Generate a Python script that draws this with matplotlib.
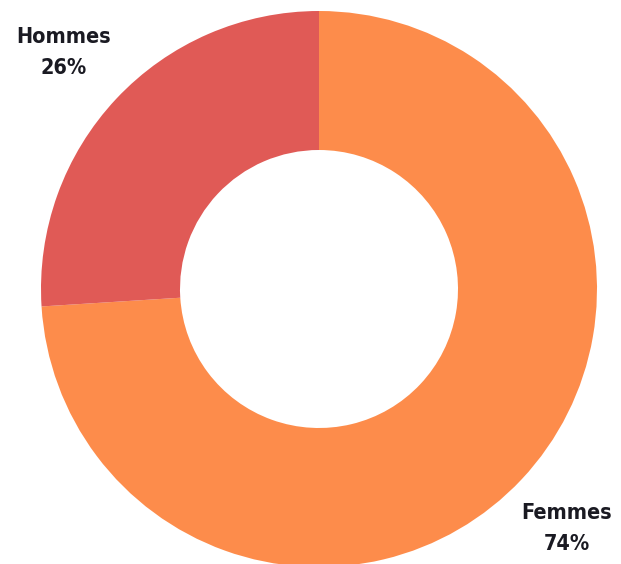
import matplotlib.pyplot as plt

# Data
labels = ["Femmes", "Hommes"]
shares = [74, 26]
colors = ["#FD8C4B", "#E05A56"]

fig = plt.figure(figsize=(6.21, 5.64), dpi=100)
ax = fig.add_axes([41 / 621, -3 / 564, 556 / 621, 556 / 564])

ax.pie(shares, colors=colors, startangle=90, counterclock=False,
       radius=1, wedgeprops=dict(width=0.5, linewidth=0))
ax.set_xlim(-1, 1)
ax.set_ylim(-1, 1)
ax.set_aspect("equal")
ax.axis("off")

font = dict(family="DejaVu Sans", fontweight="bold", fontstretch="condensed",
            fontsize=15.5, color="#1a1a22", ha="center", va="center")

# label positions in figure pixels (name line, percent line)
fig.text(64 / 621, 1 - 37 / 564, labels[1], **font)
fig.text(64 / 621, 1 - 68 / 564, f"{shares[1]}%", **font)
fig.text(567 / 621, 1 - 513 / 564, labels[0], **font)
fig.text(567 / 621, 1 - 544 / 564, f"{shares[0]}%", **font)

fig.savefig("out.png", dpi=100)
